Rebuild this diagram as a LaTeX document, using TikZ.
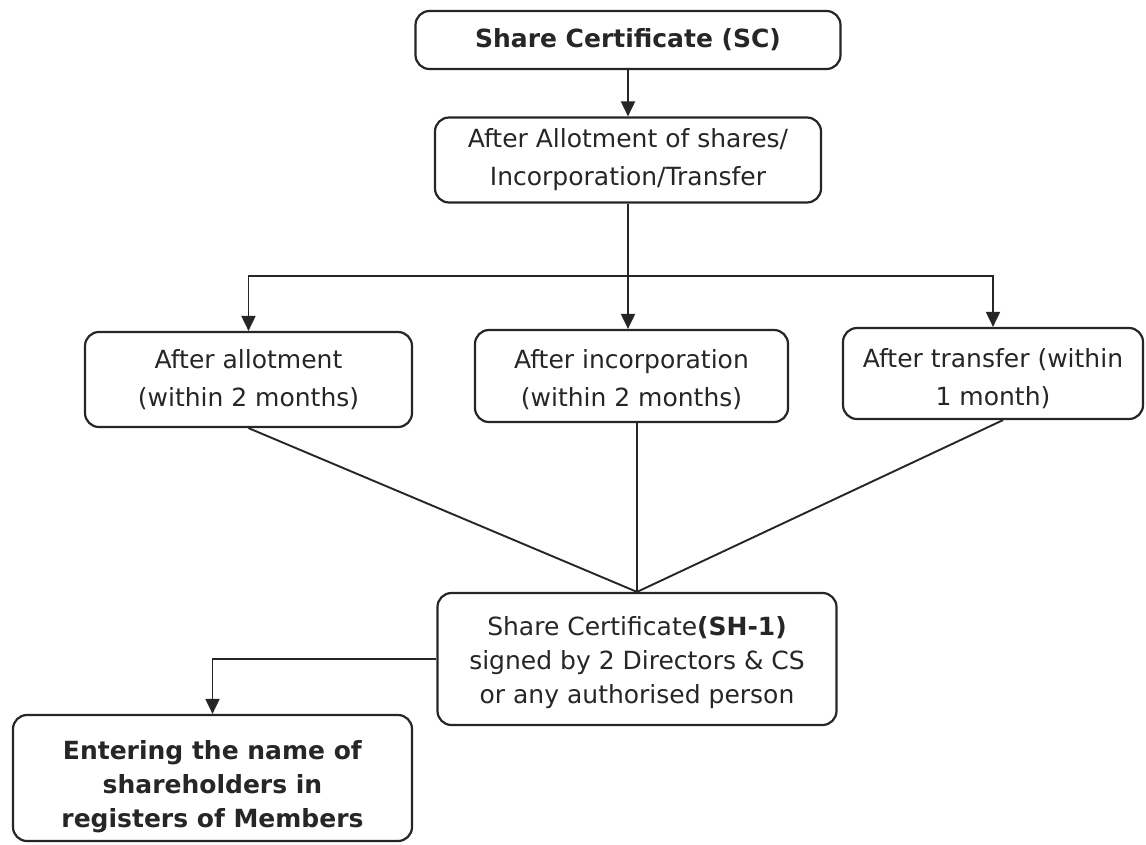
\documentclass[tikz,border=0pt]{standalone}
\usepackage{fontspec}
\setmainfont{DejaVu Sans}
\usetikzlibrary{arrows.meta,calc}
\definecolor{ink}{HTML}{262626}
% a strut that sets the height of a first line
\newcommand{\topstrut}[1]{\rule{0pt}{#1}}
\begin{document}
\begin{tikzpicture}[x=1pt,y=-1pt,
  box/.style={draw=ink,line width=2.2pt,rounded corners=14pt,rectangle,
    align=center,inner sep=0pt,text=ink,
    font=\fontsize{25}{38}\selectfont},
  tight/.style={font=\fontsize{25}{34}\selectfont},
  link/.style={draw=ink,line width=1.9pt},
  arr/.style={link,-{Triangle[width=14pt,length=15pt]}}]
\useasboundingbox (0,0) rectangle (1146,844);
\fill[white] (0,0) rectangle (1146,844);

% top of the chart
\node[box,minimum width=425pt,minimum height=58pt] (sc) at (628,40)
  {\textbf{Share Certificate (SC)}};
\node[box,minimum width=386pt,minimum height=85pt] (allot) at (628,160)
  {After Allotment of shares/\\Incorporation/Transfer};

% three cases
\node[box,minimum width=327pt,minimum height=95pt] (left) at (248.5,379.5)
  {After allotment\\(within 2 months)};
\node[box,minimum width=313pt,minimum height=92pt] (mid) at (631.5,376)
  {\topstrut{27pt}After incorporation\\(within 2 months)};
\node[box,minimum width=300pt,minimum height=91pt] (right) at (993,373.5)
  {\topstrut{29pt}After transfer (within\\1 month)};

% certificate and register
\node[box,tight,minimum width=399pt,minimum height=132pt] (sh) at (637,659)
  {\topstrut{26pt}Share Certificate\textbf{(SH-1)}\\signed by 2 Directors \& CS\\or any authorised person};
\node[box,tight,minimum width=399pt,minimum height=126pt] (enter) at (212.5,778)
  {\topstrut{36pt}\textbf{Entering the name of}\\\textbf{shareholders in}\\\textbf{registers of Members}};

% connectors
\coordinate (j) at (628,276);
\draw[arr] (sc.south) -- (allot.north);
\draw[link] (allot.south) -- (j);
\draw[arr] (j) -| (left.north);
\draw[arr] (j) -- (j |- mid.north);
\draw[arr] (j) -| (right.north);

\draw[link] (left.south) -- (sh.north);
\draw[link] (sh.north |- mid.south) -- (sh.north);
\draw[link] ($(right.south)+(10,0)$) -- (sh.north);

\draw[arr] (sh.west) -| (enter.north);
\end{tikzpicture}
\end{document}
